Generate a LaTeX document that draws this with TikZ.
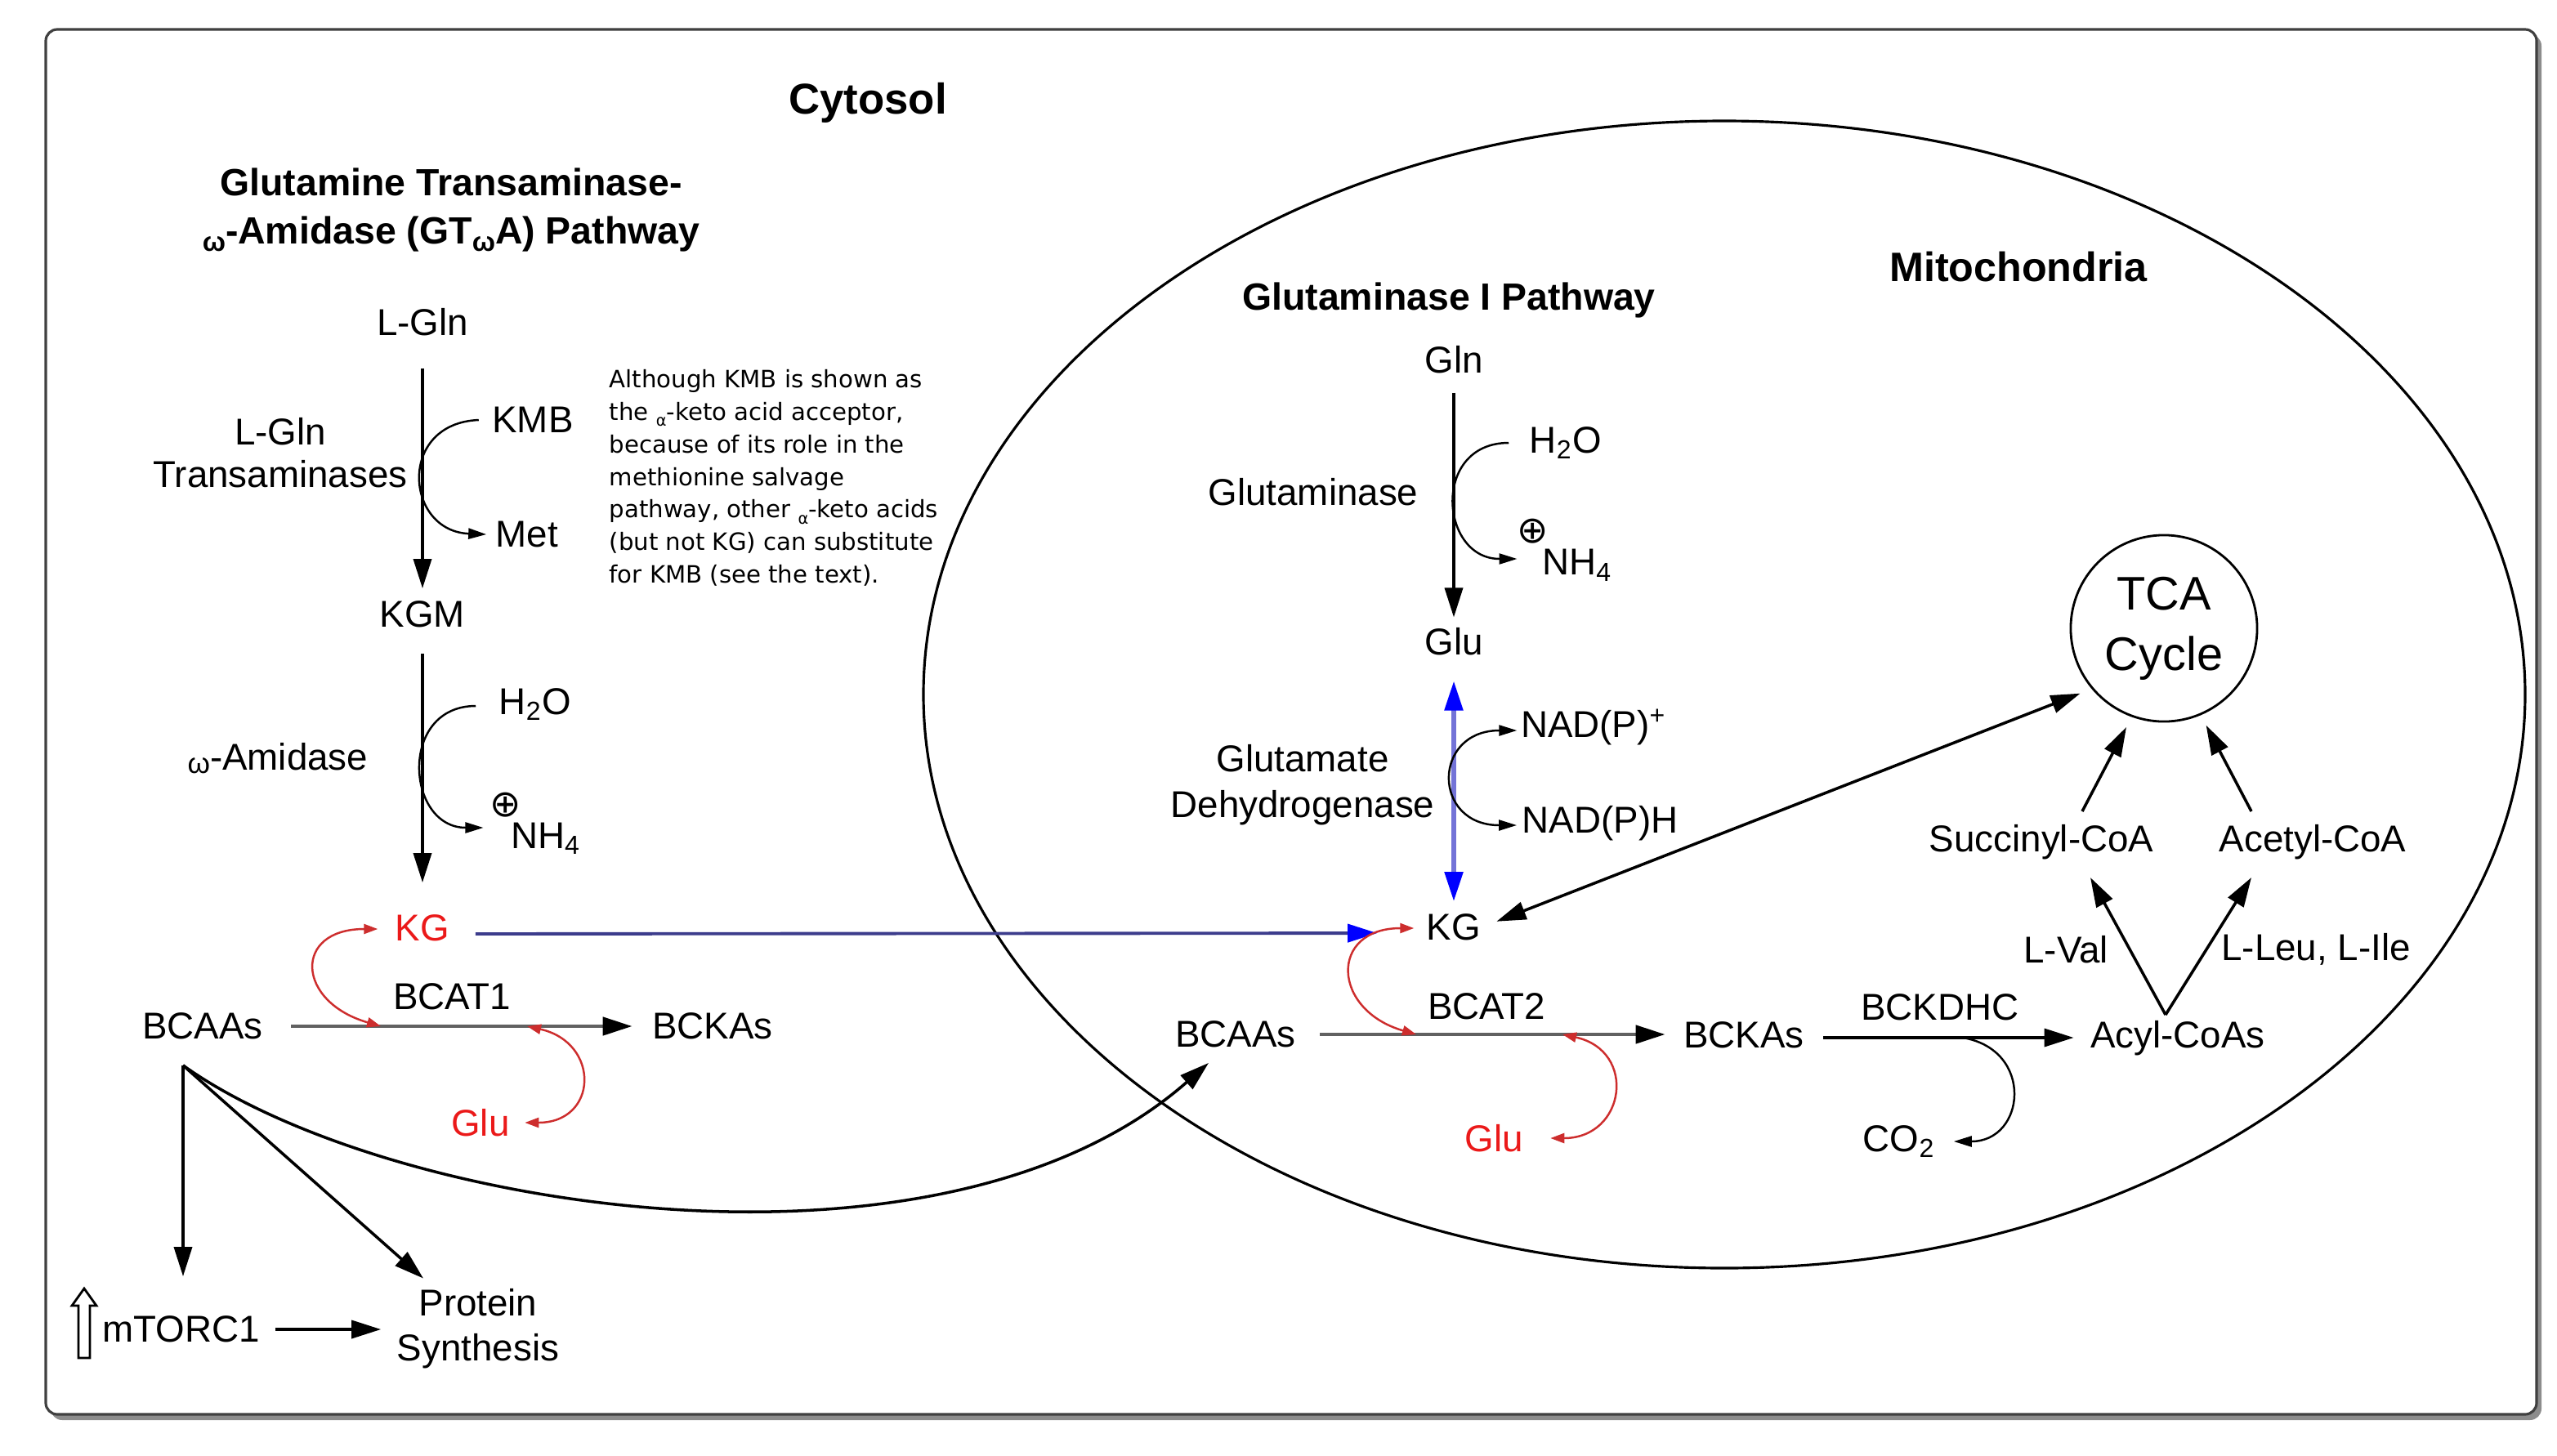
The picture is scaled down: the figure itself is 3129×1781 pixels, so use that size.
\documentclass[tikz,border=0pt]{standalone}
\usepackage{fontspec}
\setmainfont{Liberation Sans}
\newfontfamily\dvfont{DejaVu Sans}
\usetikzlibrary{arrows.meta,calc}
\definecolor{navyc}{RGB}{60,60,140}
\definecolor{lbluec}{RGB}{115,115,215}
\definecolor{pblue}{RGB}{0,0,255}
\definecolor{redc}{RGB}{205,45,45}
\definecolor{redtxt}{RGB}{235,25,25}
\newcommand\omb{\raisebox{-0.35ex}{\fontsize{9.5}{9.5}\selectfont\bfseries ω}}
\newcommand\oms{\raisebox{-0.15ex}{\fontsize{10}{10}\selectfont ω}}
\newcommand\als{\raisebox{-0.45ex}{\fontsize{5.5}{5.5}\selectfont α}}
\begin{document}
\begin{tikzpicture}[x=0.01cm,y=-0.01cm,
  bigtip/.tip={Triangle[length=0.36cm,width=0.22cm]},
  blktip/.tip={Triangle[length=0.36cm,width=0.22cm,color=black]},
  bluetip/.tip={Triangle[length=0.36cm,width=0.22cm,color=pblue]},
  smalltip/.tip={Triangle[length=0.22cm,width=0.13cm]},
  redtip/.tip={Triangle[length=0.17cm,width=0.12cm]},
  lbl/.style={inner sep=0pt,font=\fontsize{13}{15}\selectfont},
  ttl/.style={inner sep=0pt,align=center,font=\fontsize{13.2}{17}\selectfont\bfseries},
  hdr/.style={inner sep=0pt,font=\fontsize{15}{18}\selectfont\bfseries},
  rlbl/.style={lbl,text=redtxt},
  plus/.style={inner sep=0pt,font=\dvfont\fontsize{13}{13}\selectfont},
  arr/.style={line width=1.0pt,-bigtip},
  darr/.style={line width=1.0pt,bigtip-bigtip},
  grayarr/.style={line width=1.3pt,draw=black!62,-blktip},
  bluearr/.style={line width=1.1pt,draw=navyc,-bluetip},
  bluedarr/.style={line width=1.5pt,draw=lbluec,bluetip-bluetip},
  carr/.style={line width=0.7pt,-smalltip},
  dcarr/.style={line width=0.7pt,smalltip-smalltip},
  rarr/.style={line width=0.7pt,draw=redc,redtip-redtip}
]
\useasboundingbox (0,0) rectangle (3129,1781);
% frame
\fill[black!45,rounded corners=4pt] (62,42) rectangle (3110,1738);
\draw[black!75,fill=white,line width=0.9pt,rounded corners=4pt] (56,36) rectangle (3104,1731);
% mitochondrion
\draw[line width=0.9pt] (2110,850) ellipse [x radius=980,y radius=702];

% headings
\node[hdr] (cyt) at (1062,126) {Cytosol};
\node[ttl] (gtoa) at (552,257) {Glutamine Transaminase-\\\omb-Amidase (GT\omb A) Pathway};
\node[hdr,font=\fontsize{14.3}{17}\selectfont\bfseries] (mito) at (2470,327) {Mitochondria};
\node[ttl] (gip) at (1773,367) {Glutaminase I Pathway};

% cytosol nodes
\node[lbl] (lgln) at (517,394) {L-Gln};
\node[lbl,align=center,font=\fontsize{13}{14.8}\selectfont] (lglnt) at (343,554) {L-Gln\\Transaminases};
\node[lbl] (kmb) at (652,514) {KMB};
\node[lbl] (met) at (645,654) {Met};
\node[lbl] (kgm) at (517,752) {KGM};
\node[lbl] (omam) at (340,928) {\oms-Amidase};
\node[lbl] (h2oa) at (655,862) {H\textsubscript{2}O};
\node[plus] (pla) at (619,985) {⊕};
\node[lbl] (nh4a) at (668,1026) {NH\textsubscript{4}};
\node[rlbl] (kg1) at (517,1136) {KG};
\node[lbl] (bcat1) at (553,1220) {BCAT1};
\node[lbl] (bcaa1) at (248,1256) {BCAAs};
\node[lbl] (bcka1) at (872,1256) {BCKAs};
\node[rlbl] (glu1) at (588,1374) {Glu};
\node[lbl,anchor=west] (mtor) at (125,1627) {mTORC1};
\node[lbl,align=center,font=\fontsize{13}{15.6}\selectfont] (prot) at (585,1626) {Protein\\Synthesis};
\draw[line width=0.8pt,fill=white] (96,1662) -- (110,1662) -- (110,1598) -- (118,1598) -- (103,1577) -- (88,1598) -- (96,1598) -- cycle;
\node[inner sep=0pt,anchor=north west,align=left,font=\dvfont\fontsize{8.3}{11.3}\selectfont] (note) at (745,452) {Although KMB is shown as\\the \als-keto acid acceptor,\\because of its role in the\\methionine salvage\\pathway, other \als-keto acids\\(but not KG) can substitute\\for KMB (see the text).};

% mitochondria nodes
\node[lbl] (gln) at (1779,440) {Gln};
\node[lbl] (glnase) at (1607,602) {Glutaminase};
\node[lbl] (h2ob) at (1916,542) {H\textsubscript{2}O};
\node[plus] (plb) at (1876,650) {⊕};
\node[lbl] (nh4b) at (1930,692) {NH\textsubscript{4}};
\node[lbl] (glu2) at (1779,785) {Glu};
\node[lbl,align=center,font=\fontsize{13}{16}\selectfont] (gdh) at (1594,961) {Glutamate\\Dehydrogenase};
\node[lbl] (nadp) at (1950,890) {NAD(P)\textsuperscript{+}};
\node[lbl] (nadph) at (1958,1008) {NAD(P)H};
\node[lbl] (kg2) at (1779,1135) {KG};
\node[lbl] (bcaa2) at (1512,1266) {BCAAs};
\node[lbl] (bcat2) at (1819,1232) {BCAT2};
\node[lbl] (bcka2) at (2134,1267) {BCKAs};
\node[rlbl] (glu3) at (1828,1393) {Glu};
\node[lbl] (bckdhc) at (2374,1233) {BCKDHC};
\node[lbl] (acyl) at (2665,1271) {Acyl-CoAs};
\node[lbl] (co2) at (2324,1397) {CO\textsubscript{2}};
\node[lbl] (lval) at (2528,1162) {L-Val};
\node[lbl] (lleu) at (2834,1162) {L-Leu, L-Ile};
\node[lbl] (succ) at (2498,1031) {Succinyl-CoA};
\node[lbl] (acet) at (2830,1031) {Acetyl-CoA};
\node[draw,circle,line width=0.8pt,minimum size=2.28cm,inner sep=0pt,align=center,font=\fontsize{16.4}{21}\selectfont] (tca) at (2648,769) {TCA\\Cycle};

% cytosol connectors
\draw[arr,shorten <=0.39cm,shorten >=0.15cm] (lgln.south) -- (kgm.north);
\draw[arr,shorten <=0.31cm,shorten >=0.39cm] (kgm.south) -- (kg1.north);
\draw[carr] ($(kmb.west)+(-16,0)$) .. controls +(-100,4) and +(-100,-4) .. ($(met.west)+(-11,0)$);
\draw[carr] ($(h2oa.west)+(-28,2)$) .. controls +(-95,0) and +(-95,0) .. ($(nh4a.west)+(-33,-13)$);
\draw[bluearr,shorten <=0.31cm,shorten >=0.6cm] ([yshift=-0.07cm]kg1.east) -- ([yshift=-0.07cm]kg2.west);
\draw[grayarr,shorten <=0.34cm,shorten >=0.24cm] (bcaa1.east) -- (bcka1.west);
\coordinate (r1) at (466,1256);
\draw[rarr] ($(kg1.west)+(-21,1)$) .. controls +(-104,0) and +(-104,-30) .. (r1);
\coordinate (r2) at (645,1256);
\draw[rarr] (r2) .. controls +(90,20) and +(90,0) .. ($(glu1.east)+(18,0)$);
\coordinate (bj) at ($(bcaa1.south)+(-24,31)$);
\draw[arr,shorten >=0.48cm] (bj) -- (bj |- mtor.north);
\draw[arr] (bj) -- ($(prot.north)+(-67,-12)$);
\draw[arr] (bj) .. controls (470,1480) and (1150,1590) .. ($(bcaa2.south)+(-33,18)$);
\draw[arr,shorten <=0.18cm,shorten >=0.19cm] (mtor.east) -- (mtor.east -| prot.west);

% mitochondria connectors
\draw[arr,shorten <=0.23cm,shorten >=0.12cm] (gln.south) -- (glu2.north);
\draw[carr] ($(h2ob.west)+(-25,0)$) .. controls +(-95,0) and +(-95,0) .. ($(nh4b.west)+(-30,-8)$);
\draw[bluedarr,shorten <=0.31cm,shorten >=0.15cm] (glu2.south) -- (kg2.north);
\draw[dcarr] ($(nadp.west)+(-4,4)$) .. controls +(-104,0) and +(-104,0) .. ($(nadph.west)+(-6,2)$);
\draw[darr,shorten <=0.2cm,shorten >=0.15cm] (kg2.east) -- (tca.220);
\draw[grayarr,shorten <=0.29cm,shorten >=0.22cm] (bcaa2.east) -- (bcaa2.east -| bcka2.west);
\coordinate (r3) at (1733,1266);
\draw[rarr] ($(kg2.west)+(-15,1)$) .. controls +(-104,0) and +(-104,-30) .. (r3);
\coordinate (r4) at (1912,1266);
\draw[rarr] (r4) .. controls +(92,20) and +(92,0) .. ($(glu3.east)+(33,0)$);
\draw[arr,shorten <=0.23cm,shorten >=0.2cm] ([yshift=-0.03cm]bcka2.east) -- ([yshift=-0.03cm]bcka2.east -| acyl.west);
\coordinate (r5) at (2402,1270);
\draw[carr] (r5) .. controls +(88,15) and +(88,0) .. ($(co2.east)+(22,0)$);
\coordinate (apex) at ($(acyl.north)+(-15,-7)$);
\draw[arr] (apex) -- ($(succ.south)+(60,21)$);
\draw[arr] (apex) -- ($(acet.south)+(-75,21)$);
\draw[arr,shorten >=0.14cm] ($(succ.north)+(50,-16)$) -- (tca.250);
\draw[arr,shorten >=0.14cm] ($(acet.north)+(-75,-16)$) -- (tca.293);
\end{tikzpicture}
\end{document}
